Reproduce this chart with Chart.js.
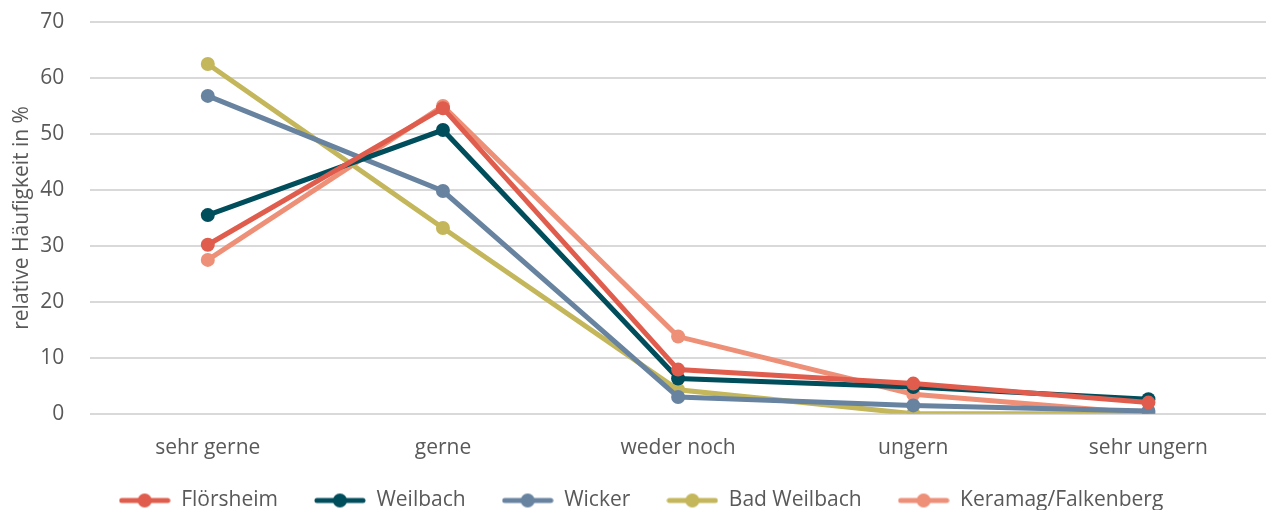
<!DOCTYPE html>
<html>
<head>
<meta charset="utf-8">
<script src="https://cdn.jsdelivr.net/npm/chart.js@4"></script>
<style>
  html, body { margin: 0; padding: 0; background: #fff; }
  #wrap { width: 1273px; height: 516px; }
</style>
</head>
<body>
<div id="wrap"><canvas id="chart"></canvas></div>
<script>
const categories = ["sehr gerne", "gerne", "weder noch", "ungern", "sehr ungern"];
const yTicks = [0, 10, 20, 30, 40, 50, 60, 70];

const floersheim = [30.2, 54.6, 7.9, 5.4, 2.0];
const weilbach = [35.5, 50.7, 6.3, 4.8, 2.6];
const wicker = [56.8, 39.8, 3.0, 1.5, 0.5];
const badWeilbach = [62.5, 33.2, 4.3, 0, 0];
const keramag = [27.5, 55.0, 13.8, 3.5, 0];

const seriesNames = ["Flörsheim", "Weilbach", "Wicker", "Bad Weilbach", "Keramag/Falkenberg"];
const seriesData = [floersheim, weilbach, wicker, badWeilbach, keramag];
const colors = ["#E05C4C", "#004D5C", "#6783A0", "#C4B65A", "#EE8F78"];

// little line+dot marker for the legend, like the spreadsheet one
function legendMarker(color) {
    const c = document.createElement("canvas");
    c.width = 52;
    c.height = 16;
    const g = c.getContext("2d");
    g.strokeStyle = color;
    g.lineWidth = 5;
    g.lineCap = "round";
    g.beginPath();
    g.moveTo(3, 8);
    g.lineTo(49, 8);
    g.stroke();
    g.fillStyle = color;
    g.beginPath();
    g.arc(26, 8, 7, 0, Math.PI * 2);
    g.fill();
    return c;
}

const datasets = seriesNames.map((name, i) => ({
    label: name,
    data: seriesData[i],
    borderColor: colors[i],
    backgroundColor: colors[i],
    borderWidth: 5,
    pointRadius: 7,
    pointHoverRadius: 7,
    pointBorderWidth: 0,
    pointStyle: "circle",
    tension: 0,
    legendImg: legendMarker(colors[i])
}));

const fontFamily = "'Open Sans', 'Liberation Sans', sans-serif";

// legend wants wide gaps between items, but the padding option also adds
// a lot of height; clamp the height and draw it from a bit higher up
const LEGEND_H = 35;
const LEGEND_SHIFT = 21;
const legendHeight = {
    id: "legendHeight",
    beforeLayout(chart) {
        const lg = chart.legend;
        if (!lg || lg._patched) return;
        lg._patched = true;
        const fit = lg.fit.bind(lg);
        lg.fit = function () {
            fit();
            this.height = LEGEND_H;
        };
        const draw = lg.draw.bind(lg);
        lg.draw = function () {
            const top = this.top;
            this.top = top - LEGEND_SHIFT;
            draw();
            this.top = top;
        };
    }
};

new Chart(document.getElementById("chart"), {
    type: "line",
    data: { labels: categories, datasets: datasets },
    options: {
        responsive: true,
        maintainAspectRatio: false,
        animation: false,
        layout: { padding: { top: 22, right: 0, left: 9, bottom: 6 } },
        scales: {
            x: {
                offset: true,
                grid: { display: false },
                border: { display: false },
                ticks: { color: "#595959", font: { family: fontFamily, size: 21 }, padding: 14 }
            },
            y: {
                min: 0,
                max: 70,
                afterBuildTicks: axis => { axis.ticks = yTicks.map(v => ({ value: v })); },
                grid: { color: "#D9D9D9", lineWidth: 2, drawTicks: true, tickLength: 22, tickColor: "transparent" },
                border: { display: false },
                ticks: { color: "#595959", font: { family: fontFamily, size: 21 }, padding: 4 },
                title: {
                    display: true,
                    text: "relative Häufigkeit in %",
                    color: "#595959",
                    font: { family: fontFamily, size: 21 },
                    padding: { top: 0, bottom: 2 }
                }
            }
        },
        plugins: {
            legend: {
                position: "bottom",
                labels: {
                    color: "#595959",
                    font: { family: fontFamily, size: 21 },
                    usePointStyle: true,
                    pointStyleWidth: 52,
                    padding: 36,
                    generateLabels: chart => chart.data.datasets.map((ds, i) => ({
                        text: ds.label,
                        pointStyle: ds.legendImg,
                        fillStyle: ds.borderColor,
                        strokeStyle: ds.borderColor,
                        fontColor: "#595959",
                        lineWidth: 0,
                        datasetIndex: i,
                        hidden: false
                    }))
                }
            },
            tooltip: { enabled: false }
        }
    },
    plugins: [legendHeight]
});
</script>
</body>
</html>
